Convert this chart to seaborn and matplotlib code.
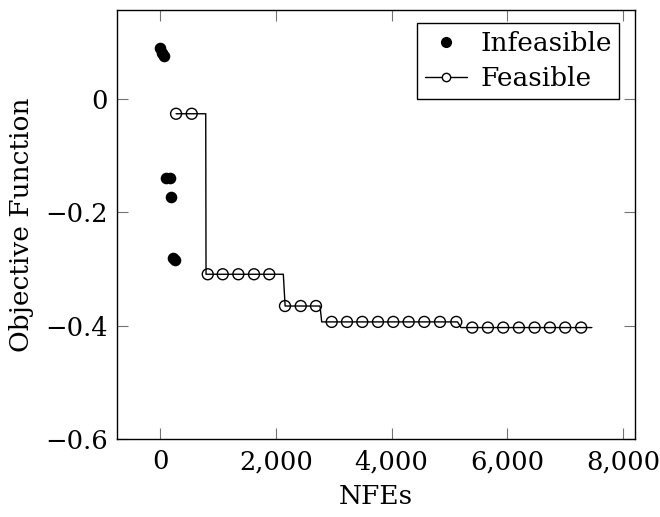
"""Objective function versus NFEs for infeasible and feasible designs."""
import matplotlib
matplotlib.use("Agg")
import matplotlib.pyplot as plt
from matplotlib.lines import Line2D
import seaborn as sns

# infeasible evaluations (scattered, early in the run)
infeasible_nfe = [0, 35, 70, 90, 160, 180, 215, 245]
infeasible_obj = [0.090, 0.082, 0.075, -0.140, -0.140, -0.173, -0.281, -0.283]

# best feasible objective so far (line vertices)
feasible_line_nfe = [272, 785, 790, 2127, 2158, 2762, 2791, 5140, 5200, 7464]
feasible_line_obj = [-0.026, -0.026, -0.309, -0.309, -0.365, -0.365,
                     -0.393, -0.393, -0.403, -0.403]

# marks drawn along the feasible line
feasible_mark_nfe = [272, 543, 820, 1079, 1349, 1620, 1884, 2156, 2428, 2692,
                     2964, 3228, 3493, 3764, 4029, 4295, 4565, 4837, 5119,
                     5395, 5666, 5931, 6202, 6474, 6738, 7003, 7279]
feasible_mark_obj = [-0.026, -0.026,
                     -0.309, -0.309, -0.309, -0.309, -0.309,
                     -0.365, -0.365, -0.365,
                     -0.393, -0.393, -0.393, -0.393, -0.393, -0.393, -0.393,
                     -0.393, -0.393,
                     -0.403, -0.403, -0.403, -0.403, -0.403, -0.403, -0.403,
                     -0.403]

x_ticks = [0, 2000, 4000, 6000, 8000]
x_tick_labels = ["0", "2,000", "4,000", "6,000", "8,000"]
y_ticks = [-0.6, -0.4, -0.2, 0.0]
y_tick_labels = ["\u22120.6", "\u22120.4", "\u22120.2", "0"]

sns.set_style("ticks")
plt.rcParams["font.family"] = ["DejaVu Serif"]
plt.rcParams["font.size"] = 19
plt.rcParams["text.color"] = "black"
plt.rcParams["axes.labelcolor"] = "black"

fig = plt.figure(figsize=(6.6, 5.17), dpi=100)
ax = fig.add_axes([0.1777, 0.1503, 0.7844, 0.8304])

sns.scatterplot(x=infeasible_nfe, y=infeasible_obj, ax=ax, color="black",
                s=70, linewidth=0, zorder=3)
sns.lineplot(x=feasible_line_nfe, y=feasible_line_obj, ax=ax, color="black",
             linewidth=1.0, estimator=None, sort=False, zorder=2)
sns.scatterplot(x=feasible_mark_nfe, y=feasible_mark_obj, ax=ax,
                facecolors="none", edgecolor="black", s=62, linewidth=1.0,
                zorder=3)

ax.set_xlim(-745, 8210)
ax.set_ylim(-0.6, 0.157)
ax.set_xticks(x_ticks)
ax.set_xticklabels(x_tick_labels)
ax.set_yticks(y_ticks)
ax.set_yticklabels(y_tick_labels)

ax.tick_params(direction="in", length=8, width=0.8, color="0.45",
               labelcolor="black", top=True, right=True, labelsize=18.5,
               pad=7)
for side in ax.spines.values():
    side.set_color("black")
    side.set_linewidth(1.0)

ax.set_xlabel("NFEs", fontsize=19, labelpad=7)
ax.set_ylabel("Objective Function", fontsize=19, labelpad=8)

handles = [
    Line2D([], [], linestyle="none", marker="o", color="black",
           markersize=7),
    Line2D([], [], color="black", linewidth=1.0, marker="o",
           markerfacecolor="white", markeredgecolor="black", markersize=6),
]
ax.legend(handles, ["Infeasible", "Feasible"], loc="upper right",
          bbox_to_anchor=(0.97, 0.97), borderaxespad=0, fancybox=False,
          framealpha=1, edgecolor="black", fontsize=19, handlelength=1.6,
          handletextpad=0.5, labelspacing=0.4, borderpad=0.3)
ax.get_legend().get_frame().set_linewidth(1.0)

fig.savefig("out.png", dpi=100)
